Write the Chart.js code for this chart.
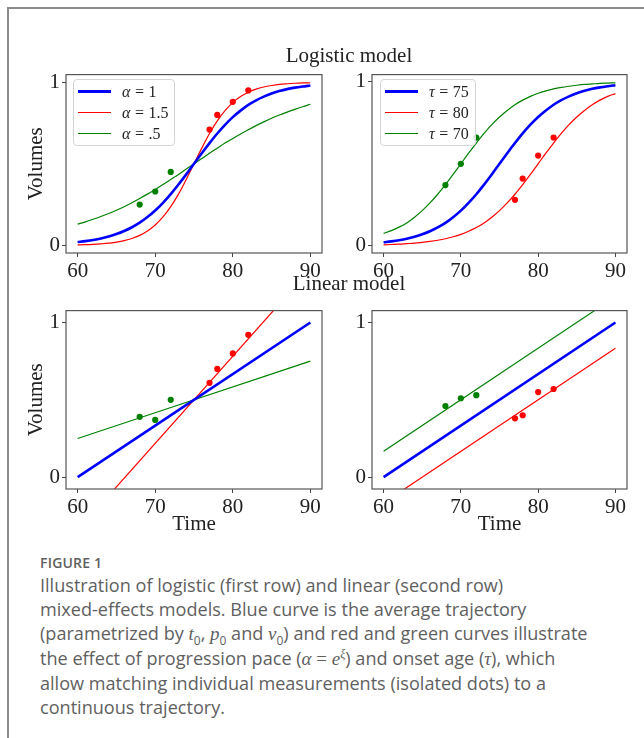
<!DOCTYPE html>
<html>
<head>
<meta charset="utf-8">
<script src="https://cdn.jsdelivr.net/npm/chart.js@4.4.1/dist/chart.umd.min.js"></script>
<style>
body { margin: 0; width: 644px; height: 738px; background: #fff; position: relative; overflow: hidden; }
#frame { position: absolute; left: 7px; top: 7px; right: -4px; bottom: -4px; border-left: 2px solid #8c8c8c; border-top: 2px solid #8c8c8c; }
canvas { position: absolute; }
.suptitle { position: absolute; width: 300px; text-align: center; font-family: "Liberation Serif"; font-size: 21px; color: #222; line-height: 22px; }
.legend { position: absolute; border: 1px solid #d4d4d4; border-radius: 4px; background: rgba(255,255,255,0.85);
          font-family: "Liberation Serif"; font-size: 16px; color: #222; padding: 1px 6px 1px 4px; }
.legend .row { display: flex; align-items: center; height: 21px; white-space: nowrap; }
.legend .swatch { display: inline-block; width: 33px; margin-right: 11px; }
.legend .eq { padding: 0 4.5px; }
#caption { position: absolute; left: 40px; top: 553px; font-family: "Open Sans"; color: #5f5f5f; white-space: nowrap; }
#caption .fig { font-size: 14px; font-weight: 600; letter-spacing: 0.2px; line-height: 20px; }
#caption .txt { font-size: 18.1px; line-height: 24px; }
#caption sub, #caption sup { line-height: 0; font-size: 12px; }
#caption .m { font-family: "Liberation Serif"; font-style: italic; font-size: 19px; }
#caption .r { font-family: "Liberation Serif"; font-size: 19px; }
</style>
</head>
<body>
<div id="frame"></div>
<canvas id="logAlpha" width="316" height="222" style="left:14px;top:60px"></canvas>
<canvas id="logTau" width="296" height="222" style="left:340px;top:60px"></canvas>
<canvas id="linAlpha" width="316" height="244" style="left:14px;top:296px"></canvas>
<canvas id="linTau" width="296" height="244" style="left:340px;top:296px"></canvas>
<div class="suptitle" style="left:199px;top:44px">Logistic model</div>
<div class="suptitle" style="left:199px;top:272px">Linear model</div>
<div class="legend" id="legAlpha" style="left:73px;top:79px"></div>
<div class="legend" id="legTau" style="left:380px;top:79px"></div>
<div id="caption">
  <div class="fig">FIGURE 1</div>
  <div class="txt">
    Illustration of logistic (first row) and linear (second row)<br>
    mixed-effects models. Blue curve is the average trajectory<br>
    (parametrized by <span class="m">t</span><sub>0</sub>, <span class="m">p</span><sub>0</sub> and <span class="m">v</span><sub>0</sub>) and red and green curves illustrate<br>
    the effect of progression pace (<span class="m">α</span> <span class="r">=</span> <span class="m">e</span><sup><span class="m" style="font-size:12px">ξ</span></sup>) and onset age (<span class="m">τ</span>), which<br>
    allow matching individual measurements (isolated dots) to a<br>
    continuous trajectory.
  </div>
</div>
<script>
// -------------------- DATA --------------------
const years = [60, 61, 62, 63, 64, 65, 66, 67, 68, 69, 70, 71, 72, 73, 74, 75,
               76, 77, 78, 79, 80, 81, 82, 83, 84, 85, 86, 87, 88, 89, 90];

// logistic curves
const logBlue = [0.020, 0.026, 0.033, 0.042, 0.054, 0.069, 0.088, 0.111, 0.139, 0.174, 0.214,
                 0.261, 0.314, 0.373, 0.435, 0.500, 0.565, 0.627, 0.686, 0.739, 0.786,
                 0.826, 0.861, 0.889, 0.912, 0.931, 0.946, 0.958, 0.967, 0.974, 0.980];
const logRedAlpha = [0.003, 0.004, 0.006, 0.009, 0.013, 0.020, 0.029, 0.042, 0.061, 0.088, 0.125,
                     0.174, 0.237, 0.314, 0.404, 0.500, 0.596, 0.686, 0.763, 0.826, 0.875,
                     0.912, 0.939, 0.958, 0.971, 0.980, 0.987, 0.991, 0.994, 0.996, 0.997];
const logGreenAlpha = [0.130, 0.144, 0.160, 0.177, 0.195, 0.215, 0.237, 0.261, 0.287, 0.314, 0.343,
                       0.373, 0.404, 0.435, 0.468, 0.500, 0.532, 0.565, 0.596, 0.627, 0.655,
                       0.683, 0.709, 0.734, 0.757, 0.779, 0.799, 0.817, 0.834, 0.850, 0.865];
const logRedTau = [0.005, 0.007, 0.009, 0.012, 0.015, 0.020, 0.026, 0.033, 0.042, 0.054, 0.069,
                   0.088, 0.111, 0.139, 0.174, 0.214, 0.261, 0.314, 0.373, 0.435, 0.500,
                   0.565, 0.627, 0.686, 0.739, 0.786, 0.826, 0.861, 0.889, 0.912, 0.929];
const logGreenTau = [0.075, 0.092, 0.113, 0.139, 0.174, 0.214, 0.261, 0.314, 0.373, 0.435, 0.500,
                     0.565, 0.627, 0.686, 0.739, 0.786, 0.826, 0.861, 0.889, 0.912, 0.931,
                     0.946, 0.958, 0.967, 0.974, 0.980, 0.985, 0.988, 0.991, 0.993, 0.995];

// straight lines of the bottom row (values at 60 and 90)
const lineX = [60, 90];
const linBlue = [0, 1];
const linRedAlpha = [-0.345, 1.345];
const linGreenAlpha = [0.25, 0.75];
const linRedTau = [-0.167, 0.833];
const linGreenTau = [0.167, 1.167];

// individual measurements
const dotGreenX = [68, 70, 72];
const dotRedX = [77, 78, 80, 82];
const dotsLogAlphaGreen = [0.25, 0.33, 0.45];
const dotsLogAlphaRed = [0.71, 0.80, 0.88, 0.95];
const dotsLogTauGreen = [0.37, 0.50, 0.66];
const dotsLogTauRed = [0.28, 0.41, 0.55, 0.66];
const dotsLinAlphaGreen = [0.39, 0.37, 0.50];
const dotsLinAlphaRed = [0.61, 0.70, 0.80, 0.92];
const dotsLinTauGreen = [0.46, 0.51, 0.53];
const dotsLinTauRed = [0.38, 0.40, 0.55, 0.57];

const xTicks = [60, 70, 80, 90];
const yTicks = [0, 1];

const alphaLabels = ["1", "1.5", ".5"];
const tauLabels = ["75", "80", "70"];

// -------------------- COLORS --------------------
const BLUE = "#0000ff";
const RED = "#ff0000";
const GREEN = "#008000";
const seriesColors = [BLUE, RED, GREEN];
const seriesWidths = [3, 1, 1];

const serif = { family: "Liberation Serif", size: 21 };

Chart.defaults.font.family = "Liberation Serif";
Chart.defaults.font.size = 21;
Chart.defaults.color = "#222";
Chart.defaults.animation = false;

function pts(xs, ys) {
    return xs.map((x, i) => ({ x: x, y: ys[i] }));
}

function curve(xs, ys, color, width) {
    return {
        data: pts(xs, ys),
        showLine: true,
        borderColor: color,
        borderWidth: width,
        pointRadius: 0,
        cubicInterpolationMode: "monotone",
        fill: false
    };
}

function dots(xs, ys, color) {
    return {
        data: pts(xs, ys),
        showLine: false,
        pointRadius: 3.1,
        pointBorderWidth: 0,
        backgroundColor: color,
        borderColor: color
    };
}

// box around the plot area, like matplotlib spines
const framePlugin = {
    id: "framePlugin",
    afterDraw(chart) {
        const { ctx, chartArea: a } = chart;
        ctx.save();
        ctx.strokeStyle = "#555";
        ctx.lineWidth = 1.2;
        ctx.strokeRect(a.left, a.top, a.right - a.left, a.bottom - a.top);
        ctx.restore();
    }
};

// -------------------- BUILD PANEL --------------------
function buildPanel(id, datasets, opts) {
    const el = document.getElementById(id);
    return new Chart(el, {
        type: "scatter",
        plugins: [framePlugin],
        data: { datasets: datasets },
        options: {
            responsive: false,
            layout: { padding: { top: 12, right: opts.right, left: 0, bottom: 0 } },
            plugins: { legend: { display: false }, tooltip: { enabled: false } },
            scales: {
                x: {
                    type: "linear",
                    min: 58.5,
                    max: 91.5,
                    afterBuildTicks: s => { s.ticks = xTicks.map(v => ({ value: v })); },
                    afterFit: s => { s.height = opts.xHeight; },
                    grid: { drawOnChartArea: false, drawTicks: true, tickLength: 4, color: "#444" },
                    border: { display: false },
                    ticks: { padding: 2, maxRotation: 0, font: serif, color: "#222" },
                    title: {
                        display: !!opts.xTitle,
                        text: opts.xTitle || "",
                        font: serif,
                        padding: { top: 0, bottom: 3 }
                    }
                },
                y: {
                    type: "linear",
                    min: opts.yMin,
                    max: opts.yMax,
                    afterBuildTicks: s => { s.ticks = yTicks.map(v => ({ value: v })); },
                    afterFit: s => { s.width = opts.yWidth; },
                    grid: { drawOnChartArea: false, drawTicks: true, tickLength: 4, color: "#444" },
                    border: { display: false },
                    ticks: { padding: 2, font: serif, color: "#222" },
                    title: {
                        display: !!opts.yTitle,
                        text: opts.yTitle || "",
                        font: serif,
                        padding: { top: 10, bottom: 0 }
                    }
                }
            }
        }
    });
}

buildPanel("logAlpha", [
    curve(years, logBlue, BLUE, 2.6),
    curve(years, logRedAlpha, RED, 1.2),
    curve(years, logGreenAlpha, GREEN, 1.2),
    dots(dotRedX, dotsLogAlphaRed, RED),
    dots(dotGreenX, dotsLogAlphaGreen, GREEN)
], { right: 8, yWidth: 52, xHeight: 29, yMin: -0.047, yMax: 1.047, yTitle: "Volumes" });

buildPanel("logTau", [
    curve(years, logBlue, BLUE, 2.6),
    curve(years, logRedTau, RED, 1.2),
    curve(years, logGreenTau, GREEN, 1.2),
    dots(dotRedX, dotsLogTauRed, RED),
    dots(dotGreenX, dotsLogTauGreen, GREEN)
], { right: 9, yWidth: 32, xHeight: 29, yMin: -0.045, yMax: 1.045 });

buildPanel("linAlpha", [
    curve(lineX, linBlue, BLUE, 2.6),
    curve(lineX, linRedAlpha, RED, 1.2),
    curve(lineX, linGreenAlpha, GREEN, 1.2),
    dots(dotRedX, dotsLinAlphaRed, RED),
    dots(dotGreenX, dotsLinAlphaGreen, GREEN)
], { right: 8, yWidth: 52, xHeight: 51, yMin: -0.077, yMax: 1.077, yTitle: "Volumes", xTitle: "Time" });

buildPanel("linTau", [
    curve(lineX, linBlue, BLUE, 2.6),
    curve(lineX, linRedTau, RED, 1.2),
    curve(lineX, linGreenTau, GREEN, 1.2),
    dots(dotRedX, dotsLinTauRed, RED),
    dots(dotGreenX, dotsLinTauGreen, GREEN)
], { right: 9, yWidth: 32, xHeight: 51, yMin: -0.077, yMax: 1.077, xTitle: "Time" });

// -------------------- LEGENDS --------------------
function buildLegend(id, symbol, labels) {
    const box = document.getElementById(id);
    labels.forEach((lab, i) => {
        const row = document.createElement("div");
        row.className = "row";
        const sw = document.createElement("span");
        sw.className = "swatch";
        sw.style.height = seriesWidths[i] + "px";
        sw.style.background = seriesColors[i];
        const txt = document.createElement("span");
        txt.innerHTML = "<i>" + symbol + "</i><span class='eq'>=</span>" + lab;
        row.appendChild(sw);
        row.appendChild(txt);
        box.appendChild(row);
    });
}

buildLegend("legAlpha", "α", alphaLabels);
buildLegend("legTau", "τ", tauLabels);
</script>
</body>
</html>
